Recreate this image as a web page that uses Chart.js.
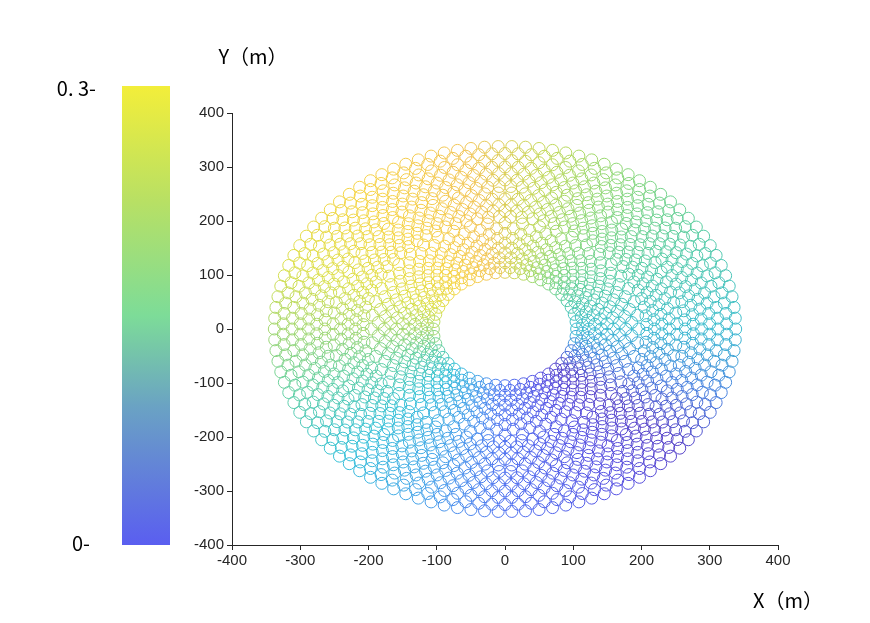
<!DOCTYPE html>
<html><head><meta charset="utf-8">
<script src="https://cdn.jsdelivr.net/npm/chart.js@4/dist/chart.umd.min.js"></script>
<style>html,body{margin:0;background:#fff}#wrap{width:870px;height:623px}</style>
</head><body><div id="wrap"><canvas id="c"></canvas></div>
<script>
// ring radii (m) and number of mirrors per ring
const ringRadii  = [105,114,123,132,141,150,159,168,177,186,196,208,219,230,241,252,264,276,288,300,312,325,338];
const ringCounts = [ 48, 48, 48, 48, 48, 48, 48, 48, 48, 48, 48, 80, 80, 80, 80, 80, 98, 98, 98, 98, 98,106,106];
// colour by azimuth (deg, colour)
const angleStops = [0,30,60,80,100,130,160,180,200,225,250,270,300,320,340,360];
const angleColors = ['#3cbcd0','#56cca8','#8ed878','#c4d858','#f2c456','#f6d446','#dce04c','#a6d872','#64d0a4','#34c0d8','#48a0ea','#5072f0','#5650e2','#5844c8','#4884e0','#3cbcd0'];
const xTicks = [-400,-300,-200,-100,0,100,200,300,400];
const yTicks = [-400,-300,-200,-100,0,100,200,300,400];
const cbarLabels = ['0. 3-','0-'];

function hex(c){return [1,3,5].map(i=>parseInt(c.substr(i,2),16));}
function colorAt(a){
  for(let i=0;i<angleStops.length-1;i++){
    if(a>=angleStops[i]&&a<=angleStops[i+1]){
      const t=(a-angleStops[i])/(angleStops[i+1]-angleStops[i]);
      const c1=hex(angleColors[i]),c2=hex(angleColors[i+1]);
      return 'rgb('+c1.map((v,k)=>Math.round(v+(c2[k]-v)*t)).join(',')+')';
    }
  }
  return angleColors[0];
}
const pts=[],cols=[];
ringRadii.forEach((r,i)=>{
  const n=ringCounts[i], off=(i%2)*0.5;
  for(let k=0;k<n;k++){
    const a=(k+off)/n*360;
    pts.push({x:r*Math.cos(a*Math.PI/180),y:r*Math.sin(a*Math.PI/180)});
    cols.push(colorAt(a));
  }
});
const deco={id:'deco',afterDraw(ch){
  const g=ch.ctx;g.save();
  const grd=g.createLinearGradient(0,545,0,86);
  grd.addColorStop(0,'#5a5ef0');grd.addColorStop(0.3,'#6aa2c4');grd.addColorStop(0.5,'#7ddc98');
  grd.addColorStop(0.75,'#b8e064');grd.addColorStop(1,'#f3ee3a');
  g.fillStyle=grd;g.fillRect(122,86,48,459);
  g.fillStyle='#000';g.font='20px "Noto Sans CJK SC"';g.textBaseline='middle';g.textAlign='right';
  g.fillText(cbarLabels[0],96,88);g.fillText(cbarLabels[1],90,543);
  g.textAlign='center';
  g.fillText('Y（m）',253,56);g.fillText('X（m）',788,600);
  g.restore();
}};
new Chart(document.getElementById('c'),{
  type:'scatter',
  data:{datasets:[{data:pts,pointStyle:'circle',pointRadius:6,pointBorderWidth:1,
    pointBorderColor:cols,pointBackgroundColor:'rgba(0,0,0,0)',borderColor:cols}]},
  options:{responsive:true,maintainAspectRatio:false,animation:false,
    layout:{padding:{left:180,right:92,top:113,bottom:40}},
    plugins:{legend:{display:false},tooltip:{enabled:false}},
    scales:{
      x:{type:'linear',min:-400,max:400,afterBuildTicks:s=>{s.ticks=xTicks.map(v=>({value:v}))},
        afterFit:s=>{s.height=38},
        grid:{drawOnChartArea:false,tickLength:5,color:'#262626'},border:{color:'#262626'},
        ticks:{color:'#262626',font:{family:'Liberation Sans',size:15},maxRotation:0,padding:2}},
      y:{type:'linear',min:-400,max:400,afterBuildTicks:s=>{s.ticks=yTicks.map(v=>({value:v}))},
        afterFit:s=>{s.width=52},
        grid:{drawOnChartArea:false,tickLength:5,color:'#262626'},border:{color:'#262626'},
        ticks:{color:'#262626',font:{family:'Liberation Sans',size:15},padding:3}}
    }},
  plugins:[deco]
});
</script></body></html>
